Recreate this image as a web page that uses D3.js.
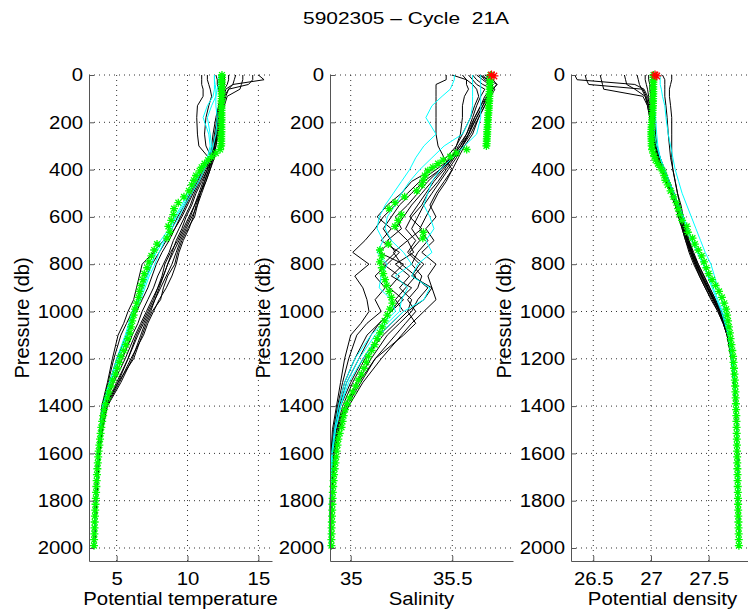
<!DOCTYPE html>
<html>
<head>
<meta charset="utf-8">
<script src="https://cdn.jsdelivr.net/npm/d3@7"></script>
<style>
  body { margin: 0; background: #fff; }
  svg { display: block; }
  text { font-family: "Liberation Sans", Arial, Helvetica, sans-serif; }
</style>
</head>
<body>
<div id="chart"></div>
<script>
const titleText = "5902305 \u2013 Cycle  21A";
const xLabels = ["Potential temperature", "Salinity", "Potential density"];
const yLabel = "Pressure (db)";

const pressureTicks = [0, 200, 400, 600, 800, 1000, 1200, 1400, 1600, 1800, 2000];
const tempTicks = [5, 10, 15];
const salTicks = [35, 35.5];
const densTicks = [26.5, 27, 27.5];

// nearby profiles (black) and previous cycles (cyan), all read on the same pressure levels
const blackPres = [0, 20, 40, 60, 90, 130, 180, 250, 300, 350, 400, 450, 500, 550, 600, 650,
  700, 750, 800, 850, 900, 950, 1000, 1050, 1100, 1200, 1300, 1400, 1500, 1600, 1800, 2000];

const blackTemp = [
  [15.0, 15.4, 13.2, 12.7, 12.6, 12.5, 12.3, 12.1, 12.0, 11.9, 11.6, 11.3, 11.0, 10.7, 10.3, 9.9, 9.5, 9.2, 8.9, 8.5, 8.1, 7.7, 7.3, 6.9, 6.5, 5.8, 5.0, 4.2, 3.95, 3.75, 3.55, 3.42],
  [14.6, 14.6, 14.3, 12.9, 12.7, 12.5, 12.4, 12.2, 12.0, 11.8, 11.4, 11.1, 10.8, 10.5, 10.1, 9.7, 9.3, 8.8, 8.4, 8.2, 7.9, 7.5, 7.1, 6.7, 6.3, 5.6, 4.8, 4.15, 3.9, 3.72, 3.53, 3.41],
  [13.9, 13.9, 13.8, 13.7, 12.8, 12.6, 12.4, 12.1, 11.9, 11.8, 11.5, 11.2, 10.9, 10.6, 10.4, 10.1, 9.7, 9.4, 9.2, 8.9, 8.5, 8.0, 7.6, 7.2, 6.9, 6.0, 5.2, 4.3, 3.98, 3.78, 3.56, 3.43],
  [13.4, 13.3, 13.2, 12.9, 12.6, 12.4, 12.2, 12.0, 11.9, 11.8, 11.3, 10.9, 10.5, 10.2, 9.8, 9.4, 9.0, 8.7, 8.3, 7.9, 7.6, 7.2, 6.8, 6.5, 6.1, 5.4, 4.7, 4.1, 3.88, 3.7, 3.52, 3.4],
  [12.9, 12.9, 12.8, 12.6, 12.5, 12.3, 12.1, 11.9, 11.8, 11.7, 11.2, 10.8, 10.4, 10.0, 9.6, 9.1, 8.7, 8.2, 7.8, 7.5, 7.2, 6.8, 6.4, 6.0, 5.7, 5.0, 4.5, 4.0, 3.85, 3.69, 3.51, 3.39],
  [12.6, 12.6, 12.6, 12.5, 12.4, 12.2, 12.0, 11.8, 11.7, 11.6, 11.0, 10.6, 10.2, 9.8, 9.3, 8.9, 8.3, 7.6, 6.8, 6.6, 6.4, 6.2, 5.8, 5.5, 5.1, 4.7, 4.35, 3.95, 3.82, 3.67, 3.5, 3.38],
  [11.0, 11.0, 11.0, 11.1, 11.1, 10.7, 10.65, 10.7, 10.8, 11.5, 11.4, 11.0, 10.6, 10.3, 9.9, 9.6, 9.2, 8.9, 8.6, 8.3, 8.0, 7.7, 7.4, 7.0, 6.7, 6.1, 5.3, 4.35, 4.0, 3.8, 3.58, 3.44],
  [11.4, 11.4, 11.5, 11.6, 11.7, 11.5, 11.3, 11.2, 11.3, 11.7, 11.5, 11.2, 10.9, 10.5, 10.2, 9.8, 9.4, 9.0, 8.6, 8.3, 7.9, 7.6, 7.2, 6.8, 6.4, 5.8, 5.1, 4.25, 3.95, 3.76, 3.55, 3.42],
  [12.0, 12.1, 12.1, 12.2, 12.3, 12.2, 12.1, 12.0, 11.9, 11.8, 11.6, 11.3, 10.9, 10.7, 10.5, 10.0, 9.6, 9.3, 9.1, 8.6, 8.3, 8.1, 7.5, 7.1, 6.8, 6.2, 5.1, 4.2, 3.93, 3.74, 3.54, 3.41],
  [12.3, 12.3, 12.4, 12.4, 12.5, 12.4, 12.3, 12.1, 11.9, 11.7, 11.1, 10.7, 10.3, 9.9, 9.5, 9.1, 8.5, 8.0, 7.5, 7.1, 6.8, 6.5, 6.1, 5.7, 5.3, 4.8, 4.4, 3.98, 3.84, 3.68, 3.5, 3.39]
];

const blackSal = [
  [35.66, 35.70, 35.72, 35.70, 35.67, 35.65, 35.62, 35.58, 35.55, 35.52, 35.48, 35.44, 35.40, 35.36, 35.33, 35.30, 35.34, 35.29, 35.36, 35.31, 35.38, 35.33, 35.30, 35.24, 35.18, 35.10, 35.03, 34.97, 34.935, 34.915, 34.905, 34.90],
  [35.64, 35.66, 35.70, 35.69, 35.66, 35.64, 35.61, 35.57, 35.54, 35.50, 35.45, 35.40, 35.35, 35.30, 35.26, 35.22, 35.28, 35.21, 35.25, 35.32, 35.27, 35.22, 35.26, 35.20, 35.14, 35.06, 35.00, 34.95, 34.925, 34.91, 34.902, 34.899],
  [35.62, 35.65, 35.68, 35.71, 35.69, 35.66, 35.63, 35.60, 35.56, 35.53, 35.50, 35.46, 35.42, 35.39, 35.42, 35.37, 35.41, 35.35, 35.42, 35.38, 35.40, 35.42, 35.36, 35.30, 35.25, 35.15, 35.06, 34.99, 34.94, 34.92, 34.906, 34.90],
  [35.60, 35.62, 35.65, 35.70, 35.68, 35.65, 35.62, 35.58, 35.54, 35.49, 35.44, 35.36, 35.30, 35.24, 35.20, 35.16, 35.20, 35.14, 35.26, 35.20, 35.30, 35.24, 35.20, 35.14, 35.08, 35.02, 34.97, 34.94, 34.92, 34.905, 34.90, 34.898],
  [35.58, 35.60, 35.62, 35.66, 35.64, 35.62, 35.60, 35.57, 35.53, 35.50, 35.42, 35.34, 35.28, 35.22, 35.16, 35.12, 35.07, 35.01, 35.09, 35.02, 35.06, 35.08, 35.09, 35.05, 35.00, 34.97, 34.95, 34.93, 34.91, 34.903, 34.90, 34.898],
  [35.55, 35.57, 35.60, 35.62, 35.63, 35.61, 35.59, 35.55, 35.52, 35.47, 35.40, 35.30, 35.25, 35.18, 35.13, 35.20, 35.15, 35.24, 35.18, 35.12, 35.17, 35.12, 35.15, 35.08, 35.03, 34.99, 34.96, 34.935, 34.915, 34.905, 34.90, 34.898],
  [35.47, 35.47, 35.42, 35.42, 35.42, 35.42, 35.42, 35.42, 35.43, 35.46, 35.50, 35.47, 35.43, 35.40, 35.37, 35.34, 35.38, 35.33, 35.30, 35.35, 35.33, 35.28, 35.32, 35.27, 35.22, 35.12, 35.05, 34.98, 34.94, 34.915, 34.905, 34.90],
  [35.50, 35.57, 35.57, 35.58, 35.56, 35.55, 35.55, 35.54, 35.52, 35.50, 35.46, 35.41, 35.37, 35.33, 35.29, 35.35, 35.28, 35.31, 35.22, 35.29, 35.24, 35.30, 35.28, 35.22, 35.16, 35.07, 35.01, 34.96, 34.93, 34.91, 34.903, 34.899],
  [35.63, 35.68, 35.72, 35.70, 35.68, 35.66, 35.63, 35.59, 35.55, 35.51, 35.47, 35.43, 35.38, 35.35, 35.30, 35.27, 35.32, 35.28, 35.34, 35.30, 35.40, 35.36, 35.28, 35.32, 35.26, 35.12, 35.04, 34.97, 34.93, 34.912, 34.903, 34.899],
  [35.65, 35.67, 35.69, 35.70, 35.67, 35.64, 35.61, 35.58, 35.55, 35.51, 35.44, 35.38, 35.33, 35.28, 35.22, 35.25, 35.18, 35.22, 35.16, 35.24, 35.19, 35.26, 35.20, 35.14, 35.10, 35.04, 34.98, 34.945, 34.92, 34.907, 34.90, 34.898]
];

const blackDens = [
  [26.34, 26.36, 26.86, 26.94, 26.97, 26.99, 27.01, 27.03, 27.04, 27.06, 27.09, 27.14, 27.18, 27.22, 27.25, 27.28, 27.31, 27.34, 27.38, 27.43, 27.48, 27.54, 27.59, 27.63, 27.66, 27.70, 27.72, 27.735, 27.744, 27.749, 27.756, 27.762],
  [26.43, 26.44, 26.46, 26.93, 26.96, 26.98, 27.00, 27.02, 27.04, 27.07, 27.10, 27.15, 27.19, 27.23, 27.26, 27.29, 27.32, 27.36, 27.40, 27.44, 27.49, 27.55, 27.60, 27.635, 27.665, 27.70, 27.722, 27.736, 27.745, 27.75, 27.757, 27.763],
  [26.56, 26.57, 26.58, 26.59, 26.93, 26.97, 26.99, 27.01, 27.03, 27.05, 27.08, 27.13, 27.17, 27.21, 27.24, 27.27, 27.30, 27.33, 27.37, 27.42, 27.47, 27.52, 27.58, 27.625, 27.66, 27.695, 27.72, 27.734, 27.743, 27.748, 27.755, 27.761],
  [26.77, 26.78, 26.79, 26.86, 26.95, 26.98, 27.00, 27.02, 27.04, 27.07, 27.11, 27.16, 27.20, 27.24, 27.27, 27.30, 27.33, 27.37, 27.41, 27.46, 27.51, 27.56, 27.61, 27.645, 27.67, 27.705, 27.725, 27.738, 27.746, 27.751, 27.758, 27.764],
  [26.88, 26.89, 26.90, 26.92, 26.95, 26.97, 26.99, 27.01, 27.03, 27.06, 27.10, 27.14, 27.18, 27.22, 27.25, 27.28, 27.31, 27.35, 27.39, 27.44, 27.49, 27.54, 27.59, 27.63, 27.66, 27.70, 27.72, 27.736, 27.745, 27.75, 27.757, 27.763],
  [26.95, 26.95, 26.96, 26.97, 26.98, 26.99, 27.00, 27.02, 27.04, 27.06, 27.09, 27.13, 27.17, 27.21, 27.24, 27.27, 27.30, 27.34, 27.38, 27.42, 27.47, 27.53, 27.58, 27.625, 27.66, 27.70, 27.722, 27.737, 27.745, 27.75, 27.756, 27.762],
  [27.18, 27.18, 27.17, 27.16, 27.16, 27.17, 27.18, 27.18, 27.18, 27.18, 27.19, 27.21, 27.23, 27.26, 27.28, 27.30, 27.33, 27.36, 27.40, 27.45, 27.50, 27.55, 27.60, 27.64, 27.67, 27.705, 27.726, 27.739, 27.747, 27.752, 27.759, 27.766],
  [27.10, 27.12, 27.12, 27.12, 27.12, 27.13, 27.14, 27.15, 27.16, 27.17, 27.19, 27.21, 27.23, 27.25, 27.27, 27.29, 27.32, 27.35, 27.39, 27.44, 27.49, 27.545, 27.595, 27.635, 27.665, 27.70, 27.723, 27.737, 27.746, 27.751, 27.757, 27.764],
  [27.00, 27.01, 27.02, 27.02, 27.02, 27.02, 27.03, 27.04, 27.05, 27.08, 27.12, 27.16, 27.20, 27.23, 27.26, 27.29, 27.32, 27.36, 27.41, 27.46, 27.51, 27.56, 27.61, 27.64, 27.67, 27.705, 27.724, 27.738, 27.746, 27.751, 27.758, 27.765],
  [26.98, 26.98, 26.99, 26.99, 27.00, 27.00, 27.01, 27.03, 27.05, 27.08, 27.11, 27.15, 27.19, 27.22, 27.25, 27.28, 27.31, 27.35, 27.39, 27.44, 27.49, 27.545, 27.595, 27.635, 27.665, 27.70, 27.72, 27.735, 27.744, 27.749, 27.756, 27.762]
];

const cyanTemp = [
  [11.9, 11.9, 11.9, 11.9, 11.8, 11.4, 11.1, 11.5, 11.6, 11.4, 10.9, 10.5, 10.0, 9.6, 9.1, 8.8, 8.3, 7.8, 7.4, 7.1, 6.8, 6.5, 6.1, 5.85, 5.6, 5.0, 4.5, 4.0, 3.85, 3.7, 3.52, 3.4],
  [11.9, 11.9, 11.95, 12.0, 12.0, 12.0, 12.1, 12.0, 11.8, 11.6, 11.0, 10.6, 10.1, 9.7, 9.2, 8.7, 8.1, 7.7, 7.5, 7.2, 6.9, 6.6, 6.2, 5.9, 5.7, 5.1, 4.5, 4.05, 3.88, 3.72, 3.53, 3.41],
  [12.2, 12.2, 12.2, 12.1, 12.0, 11.7, 11.4, 11.6, 11.7, 11.5, 11.2, 10.8, 10.3, 9.8, 9.4, 8.9, 8.4, 8.0, 7.7, 7.3, 7.0, 6.7, 6.3, 6.0, 5.8, 5.2, 4.6, 4.05, 3.87, 3.71, 3.52, 3.4]
];

const cyanSal = [
  [35.51, 35.51, 35.50, 35.49, 35.45, 35.40, 35.37, 35.42, 35.36, 35.32, 35.29, 35.25, 35.21, 35.17, 35.14, 35.13, 35.16, 35.13, 35.18, 35.15, 35.14, 35.20, 35.22, 35.16, 35.10, 35.02, 34.97, 34.94, 34.92, 34.906, 34.90, 34.898],
  [35.60, 35.60, 35.60, 35.60, 35.60, 35.60, 35.59, 35.55, 35.46, 35.40, 35.34, 35.29, 35.25, 35.22, 35.18, 35.17, 35.20, 35.26, 35.30, 35.22, 35.28, 35.25, 35.24, 35.18, 35.12, 35.04, 34.98, 34.95, 34.925, 34.91, 34.902, 34.898],
  [35.64, 35.64, 35.64, 35.64, 35.64, 35.64, 35.64, 35.62, 35.56, 35.50, 35.44, 35.40, 35.38, 35.36, 35.39, 35.41, 35.37, 35.40, 35.33, 35.30, 35.39, 35.36, 35.26, 35.20, 35.14, 35.06, 34.99, 34.95, 34.925, 34.91, 34.902, 34.898]
];

const cyanDens = [
  [27.08, 27.08, 27.08, 27.09, 27.10, 27.12, 27.13, 27.15, 27.17, 27.19, 27.21, 27.24, 27.27, 27.31, 27.35, 27.39, 27.43, 27.47, 27.52, 27.55, 27.58, 27.61, 27.635, 27.655, 27.675, 27.705, 27.724, 27.738, 27.746, 27.751, 27.758, 27.764],
  [27.02, 27.02, 27.02, 27.02, 27.02, 27.02, 27.02, 27.03, 27.05, 27.08, 27.12, 27.16, 27.20, 27.24, 27.28, 27.32, 27.36, 27.41, 27.46, 27.50, 27.54, 27.58, 27.62, 27.65, 27.67, 27.70, 27.722, 27.737, 27.745, 27.75, 27.757, 27.763],
  [27.01, 27.01, 27.01, 27.01, 27.02, 27.03, 27.04, 27.05, 27.06, 27.08, 27.11, 27.15, 27.19, 27.23, 27.27, 27.31, 27.35, 27.40, 27.45, 27.49, 27.53, 27.57, 27.61, 27.64, 27.67, 27.70, 27.722, 27.737, 27.745, 27.75, 27.757, 27.763]
];

// current cycle (green stars)
const greenPres = [0, 10, 20, 30, 40, 50, 60, 70, 80, 90, 100, 110, 120, 130, 140, 150, 160, 170, 180, 190, 200,
  210, 220, 230, 240, 250, 260, 270, 280, 290, 300,
  315, 330, 345, 360, 375, 390, 405, 425, 445, 465, 490, 515, 540, 565, 590, 615, 640, 665, 690, 715,
  740, 765, 790, 815, 840, 865, 890, 915, 940, 965, 990,
  1015, 1040, 1065, 1090, 1115, 1140, 1165, 1190, 1215, 1240, 1265, 1290, 1315, 1340, 1365, 1390,
  1415, 1440, 1465, 1490, 1515, 1540, 1565, 1590, 1615, 1640, 1665, 1690, 1715, 1740, 1765, 1790,
  1815, 1840, 1865, 1890, 1915, 1940, 1965, 1990];

const greenTemp = [12.43, 12.43, 12.42, 12.42, 12.42, 12.42, 12.41, 12.41, 12.41, 12.41, 12.41,
  12.40, 12.40, 12.40, 12.40, 12.40, 12.40, 12.40, 12.40, 12.40, 12.40,
  12.39, 12.39, 12.39, 12.39, 12.38, 12.38, 12.38, 12.38, 12.38, 12.37,
  12.30, 12.0, 11.71, 11.45, 11.2, 11.0, 10.85, 10.6, 10.45, 10.3, 10.1, 9.75, 9.35, 9.05, 9.0, 8.85,
  8.65, 8.75, 8.55, 7.85, 7.65, 7.45, 7.28, 7.15, 6.95, 6.85, 6.72, 6.62, 6.55, 6.42, 6.3,
  6.2, 6.1, 6.02, 5.94, 5.8, 5.65, 5.5, 5.3, 5.18, 5.05, 4.92, 4.72, 4.6, 4.45, 4.35, 4.22,
  4.12, 4.05, 3.98, 3.92, 3.87, 3.83, 3.78, 3.73, 3.70, 3.67, 3.64, 3.61, 3.59, 3.57, 3.55, 3.53,
  3.51, 3.49, 3.47, 3.45, 3.44, 3.43, 3.41, 3.40];

const greenSal = [35.688, 35.687, 35.686, 35.686, 35.685, 35.685, 35.684, 35.684, 35.683, 35.683, 35.682,
  35.682, 35.681, 35.680, 35.680, 35.679, 35.678, 35.677, 35.676, 35.676, 35.675,
  35.674, 35.674, 35.673, 35.672, 35.672, 35.671, 35.670, 35.670, 35.669, 35.668,
  35.571, 35.52, 35.49, 35.455, 35.43, 35.405, 35.38, 35.365, 35.357, 35.35, 35.325, 35.265, 35.218, 35.189, 35.25, 35.234,
  35.218, 35.358, 35.355, 35.185, 35.144, 35.153, 35.144, 35.153, 35.16, 35.169, 35.177, 35.19, 35.2, 35.205, 35.193,
  35.18, 35.167, 35.155, 35.144, 35.13, 35.118, 35.103, 35.087, 35.077, 35.065, 35.052, 35.037, 35.025, 35.01, 34.995, 34.982,
  34.972, 34.965, 34.96, 34.955, 34.946, 34.939, 34.935, 34.931, 34.928, 34.925, 34.921, 34.918, 34.916, 34.914, 34.912, 34.911,
  34.91, 34.909, 34.908, 34.907, 34.906, 34.906, 34.905, 34.905];

const greenDens = [27.022, 27.022, 27.021, 27.021, 27.02, 27.02, 27.02, 27.02, 27.02, 27.019, 27.019,
  27.018, 27.018, 27.017, 27.016, 27.015, 27.014, 27.013, 27.012, 27.01, 27.008,
  27.006, 27.005, 27.004, 27.003, 27.003, 27.003, 27.004, 27.005, 27.006, 27.006,
  27.01, 27.02, 27.03, 27.04, 27.06, 27.08, 27.1, 27.115, 27.125, 27.145, 27.17, 27.195, 27.22, 27.235, 27.25, 27.27,
  27.31, 27.32, 27.36, 27.38, 27.41, 27.44, 27.46, 27.48, 27.5, 27.53, 27.56, 27.59, 27.615, 27.635, 27.652,
  27.66, 27.668, 27.676, 27.685, 27.69, 27.698, 27.705, 27.712, 27.716, 27.72, 27.724, 27.727, 27.73, 27.732, 27.734, 27.736,
  27.738, 27.74, 27.741, 27.742, 27.743, 27.744, 27.745, 27.746, 27.747, 27.748, 27.749, 27.75, 27.751, 27.752, 27.753, 27.754,
  27.755, 27.756, 27.757, 27.758, 27.759, 27.76, 27.761, 27.762];

// flagged surface points (red stars), salinity and density only
const redPres = [0, 4];
const redSal = [35.693, 35.705];
const redDens = [27.035, 27.05];

const W = 748, H = 615;
const plotTop = 75, plotBottom = 561, plotWidth = 183;
const panelLefts = [89, 330, 571];
const stretchK = 1.13;

const panels = [
  { domain: [3.05, 15.96], ticks: tempTicks, black: blackTemp, cyan: cyanTemp, green: greenTemp, red: null },
  { domain: [34.898, 35.799], ticks: salTicks, black: blackSal, cyan: cyanSal, green: greenSal, red: redSal },
  { domain: [26.307, 27.893], ticks: densTicks, black: blackDens, cyan: cyanDens, green: greenDens, red: redDens }
];

const svg = d3.select("#chart").append("svg")
  .attr("width", W)
  .attr("height", H);

const y = d3.scaleLinear().domain([0, 2055]).range([plotTop, plotBottom]);

// widen text horizontally like the reference rendering
const stretch = (sel, k) => {
  sel.each(function() {
    const w = this.getComputedTextLength();
    d3.select(this).attr("textLength", w * k).attr("lengthAdjust", "spacingAndGlyphs");
  });
};

const starPath = (r) => {
  const d = r * 0.72;
  return `M${-r},0H${r}M0,${-r}V${r}M${-d},${-d}L${d},${d}M${-d},${d}L${d},${-d}`;
};

panels.forEach((pn, i) => {
  const left = panelLefts[i];
  const x = d3.scaleLinear().domain(pn.domain).range([left, left + plotWidth]);
  const g = svg.append("g");

  // dotted grid
  g.selectAll(".hgrid").data(pressureTicks).enter().append("line")
    .attr("x1", left).attr("x2", left + plotWidth)
    .attr("y1", d => y(d)).attr("y2", d => y(d))
    .attr("stroke", "#333").attr("stroke-width", 1)
    .attr("stroke-dasharray", "1,4");
  g.selectAll(".vgrid").data(pn.ticks).enter().append("line")
    .attr("x1", d => x(d)).attr("x2", d => x(d))
    .attr("y1", plotTop).attr("y2", plotBottom)
    .attr("stroke", "#333").attr("stroke-width", 1)
    .attr("stroke-dasharray", "1,4");

  const line = d3.line()
    .x(d => x(d[1]))
    .y(d => y(d[0]));

  pn.black.forEach(vals => {
    g.append("path")
      .attr("d", line(blackPres.map((p, j) => [p, vals[j]])))
      .attr("fill", "none").attr("stroke", "#000").attr("stroke-width", 1);
  });
  pn.cyan.forEach(vals => {
    g.append("path")
      .attr("d", line(blackPres.map((p, j) => [p, vals[j]])))
      .attr("fill", "none").attr("stroke", "#00ffff").attr("stroke-width", 1);
  });

  g.selectAll(".gstar").data(greenPres.map((p, j) => [p, pn.green[j]])).enter().append("path")
    .attr("d", starPath(4))
    .attr("transform", d => `translate(${x(d[1])},${y(d[0])})`)
    .attr("fill", "none").attr("stroke", "#00ff00").attr("stroke-width", 1.3);

  if (pn.red) {
    g.selectAll(".rstar").data(redPres.map((p, j) => [p, pn.red[j]])).enter().append("path")
      .attr("d", starPath(4.5))
      .attr("transform", d => `translate(${x(d[1])},${y(d[0])})`)
      .attr("fill", "none").attr("stroke", "#ff0000").attr("stroke-width", 1.3);
  }

  // axes
  const yAxis = g.append("g")
    .attr("transform", `translate(${left},0)`)
    .attr("color", "#555")
    .call(d3.axisLeft(y).tickValues(pressureTicks).tickFormat(d3.format("d"))
      .tickSize(-5).tickSizeOuter(0).tickPadding(6));
  const xAxis = g.append("g")
    .attr("transform", `translate(0,${plotBottom})`)
    .attr("color", "#555")
    .call(d3.axisBottom(x).tickValues(pn.ticks).tickFormat(d => d)
      .tickSize(-5).tickSizeOuter(0).tickPadding(11));

  [yAxis, xAxis].forEach(a => {
    a.attr("font-family", null).attr("font-size", null);
    a.selectAll("text").attr("fill", "#000").style("font-size", "18px");
    a.select(".domain").attr("stroke-width", 1);
    stretch(a.selectAll("text"), stretchK);
  });

  const xl = svg.append("text")
    .attr("x", left + plotWidth / 2).attr("y", 605)
    .attr("text-anchor", "middle")
    .style("font-size", "18px")
    .text(xLabels[i]);
  stretch(xl, stretchK);

  svg.append("text")
    .attr("transform", `translate(${left - 60},${(plotTop + plotBottom) / 2}) rotate(-90)`)
    .attr("text-anchor", "middle")
    .style("font-size", "20px")
    .text(yLabel);
});

svg.append("text")
  .attr("x", 406).attr("y", 24)
  .attr("text-anchor", "middle")
  .style("font-size", "17px")
  .style("white-space", "pre")
  .attr("textLength", 206)
  .attr("lengthAdjust", "spacingAndGlyphs")
  .text(titleText);
</script>
</body>
</html>
